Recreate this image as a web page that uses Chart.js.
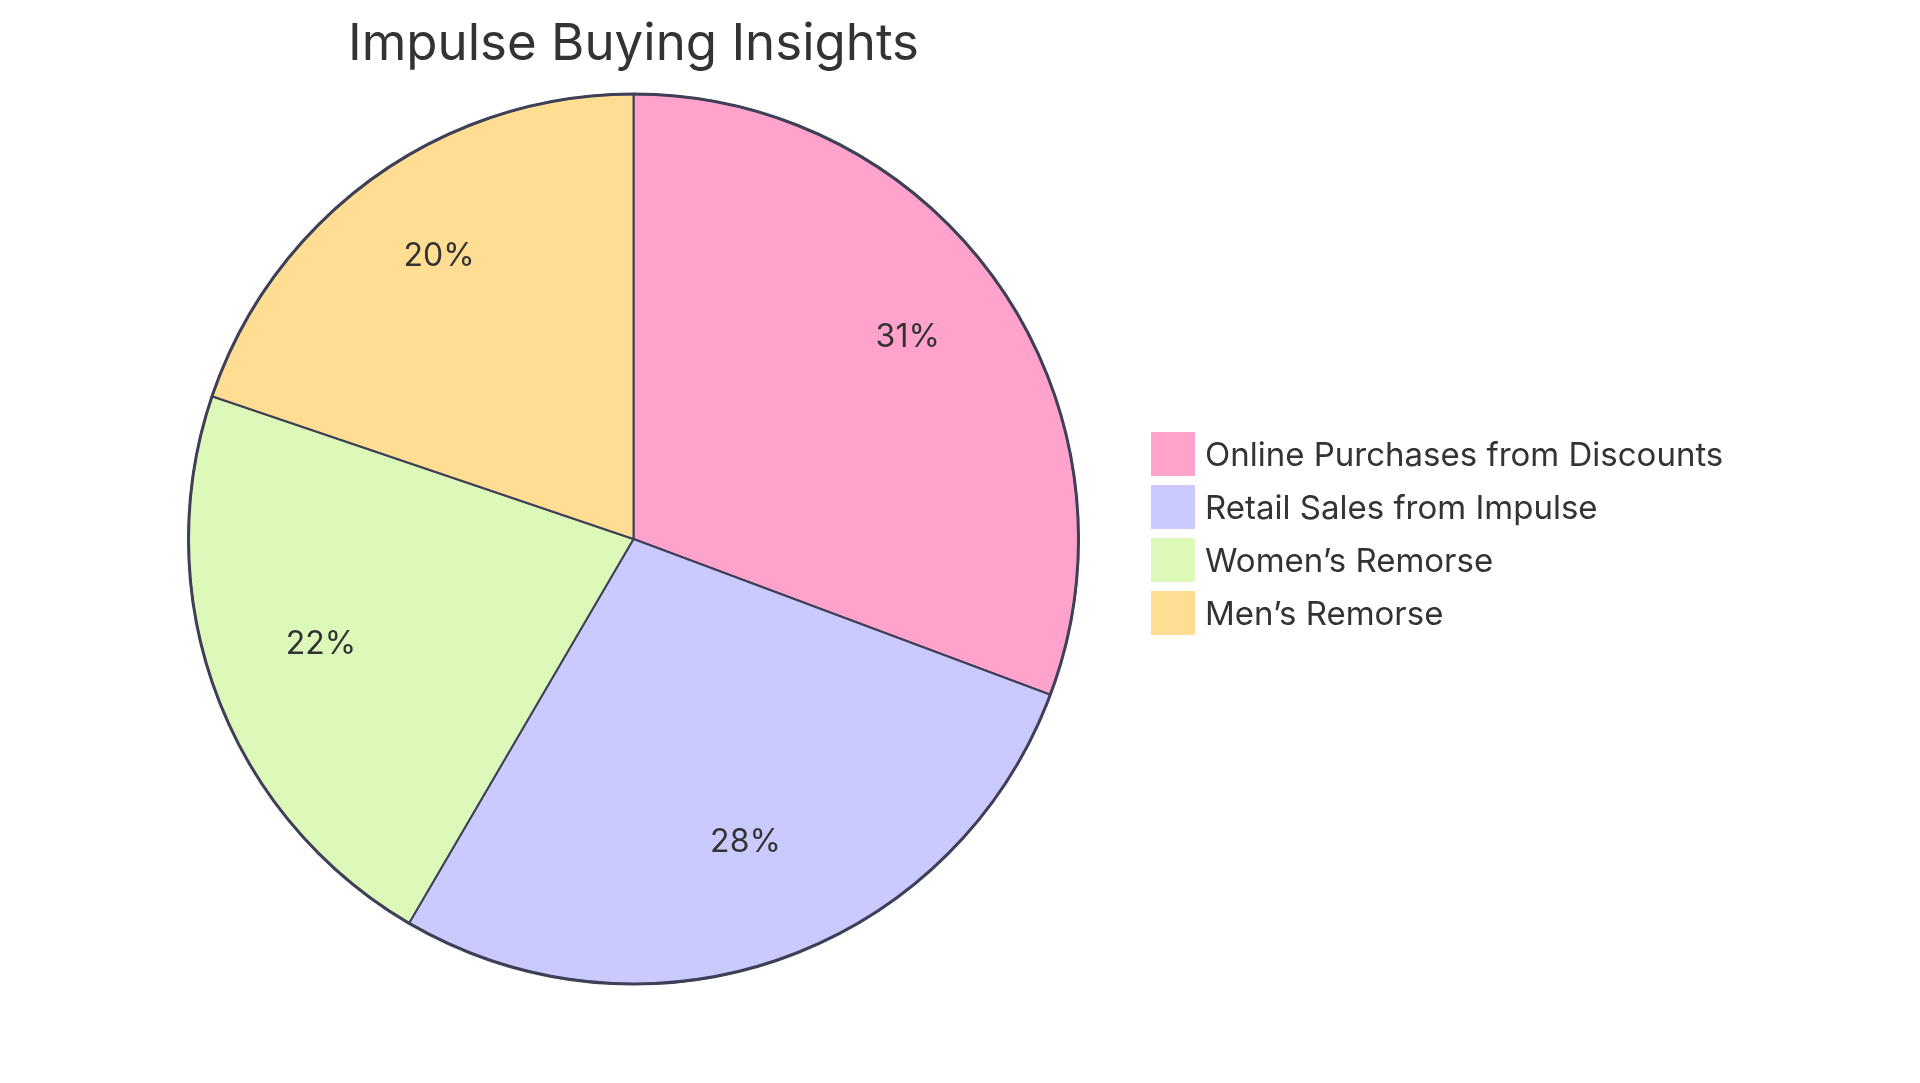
<!DOCTYPE html>
<html>
<head>
<meta charset="utf-8">
<title>Impulse Buying Insights</title>
<script src="https://cdn.jsdelivr.net/npm/chart.js@4.4.1/dist/chart.umd.min.js"></script>
<style>
    html, body { margin: 0; padding: 0; background: #ffffff; }
    #wrap { width: 1920px; height: 1083px; position: relative; }
</style>
</head>
<body>
<div id="wrap"><canvas id="pieChart" width="1920" height="1083"></canvas></div>
<script>
// ===== Data =====
const chartTitle = 'Impulse Buying Insights';
const categories = ['Online Purchases from Discounts', 'Retail Sales from Impulse', 'Women\u2019s Remorse', 'Men\u2019s Remorse'];
const shares = [31, 28, 22, 20];
const sliceColors = ['#FFA3CD', '#CACAFE', '#DCF9B9', '#FFDE94'];

const lineColor = '#3E4057';
const textColor = '#333333';
const fontFamily = "Inter, 'Open Sans', sans-serif";

// ===== Percent labels, outer rim, title and legend =====
const decorPlugin = {
    id: 'decor',
    afterDatasetsDraw(chart) {
        const ctx = chart.ctx;
        const arcs = chart.getDatasetMeta(0).data;
        const total = shares.reduce((a, b) => a + b, 0);
        if (!arcs.length) return;
        const cx = arcs[0].x, cy = arcs[0].y, r = arcs[0].outerRadius;

        // outer rim a bit heavier than the slice edges
        ctx.save();
        ctx.beginPath();
        ctx.arc(cx, cy, r, 0, Math.PI * 2);
        ctx.lineWidth = 3;
        ctx.strokeStyle = lineColor;
        ctx.stroke();

        // percentages
        ctx.fillStyle = textColor;
        ctx.font = '32px ' + fontFamily;
        ctx.textAlign = 'center';
        ctx.textBaseline = 'middle';
        arcs.forEach((arc, i) => {
            const mid = (arc.startAngle + arc.endAngle) / 2;
            const lr = arc.outerRadius * 0.75;
            const pct = Math.round(shares[i] / total * 100) + '%';
            ctx.fillText(pct, cx + Math.cos(mid) * lr, cy + Math.sin(mid) * lr - 11);
        });

        // title
        ctx.font = '51px ' + fontFamily;
        ctx.textBaseline = 'alphabetic';
        ctx.fillText(chartTitle, cx, 60);

        // legend
        const lx = 1151, ly = 432, box = 44, step = 53;
        ctx.textAlign = 'left';
        ctx.textBaseline = 'middle';
        ctx.font = '33px ' + fontFamily;
        categories.forEach((name, i) => {
            const y = ly + i * step;
            ctx.fillStyle = sliceColors[i];
            ctx.fillRect(lx, y, box, box);
            ctx.fillStyle = textColor;
            ctx.fillText(name, lx + box + 10, y + box / 2 + 2);
        });
        ctx.restore();
    }
};

new Chart(document.getElementById('pieChart').getContext('2d'), {
    type: 'pie',
    data: {
        labels: categories,
        datasets: [{
            data: shares,
            backgroundColor: sliceColors,
            borderColor: lineColor,
            borderWidth: 2,
            borderAlign: 'center',
        }]
    },
    options: {
        responsive: false,
        animation: false,
        radius: 445,
        layout: { padding: { left: 188, right: 841, top: 94, bottom: 99 } },
        plugins: {
            legend: { display: false },
            title: { display: false },
            tooltip: { enabled: false },
        }
    },
    plugins: [decorPlugin]
});
</script>
</body>
</html>
